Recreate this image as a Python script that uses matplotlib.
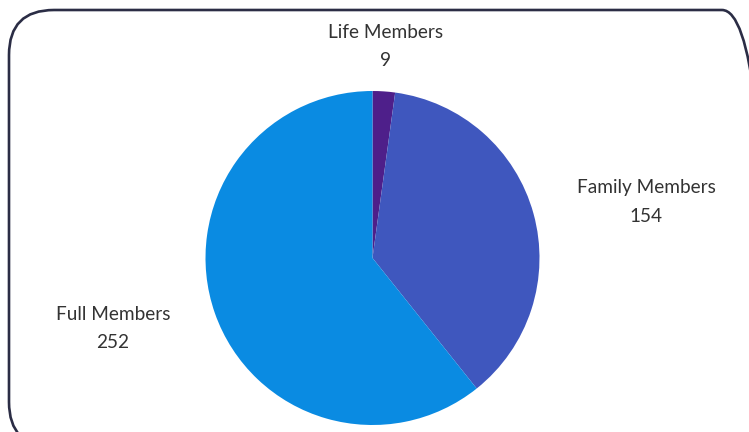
import matplotlib
matplotlib.use("Agg")
import matplotlib.pyplot as plt
from matplotlib.patches import FancyBboxPatch

categories = ["Life Members", "Family Members", "Full Members"]
values = [9, 154, 252]
colors = ["#4E1F8A", "#3F57BE", "#0A8BE2"]

W, H = 749, 432
fig = plt.figure(figsize=(W / 100, H / 100), dpi=100)
ax = fig.add_axes([0, 0, 1, 1])
ax.set_xlim(0, W)
ax.set_ylim(0, H)
ax.set_aspect("equal")
ax.axis("off")

# border
box = FancyBboxPatch((9, H - 447), 758, 437,
                     boxstyle="round,pad=0,rounding_size=45",
                     fill=False, edgecolor="#2B2D45", linewidth=1.9)
ax.add_patch(box)

cx, cy, r = 372.5, H - 258, 167
ax.pie(values, colors=colors, startangle=90, counterclock=False,
       center=(cx, cy), radius=r, frame=True,
       wedgeprops=dict(linewidth=0))
ax.set_xlim(0, W)
ax.set_ylim(0, H)
ax.axis("off")

label_pos = [(386, 32), (646, 188), (113, 314)]
font = dict(family=["Lato", "DejaVu Sans"], fontsize=13.7, color="#333333")
for cat, val, (x, y) in zip(categories, values, label_pos):
    ax.text(x, H - y, cat, ha="center", va="center", **font)
    ax.text(x, H - y - 29, str(val), ha="center", va="center", **font)

fig.savefig("out.png", dpi=100)
